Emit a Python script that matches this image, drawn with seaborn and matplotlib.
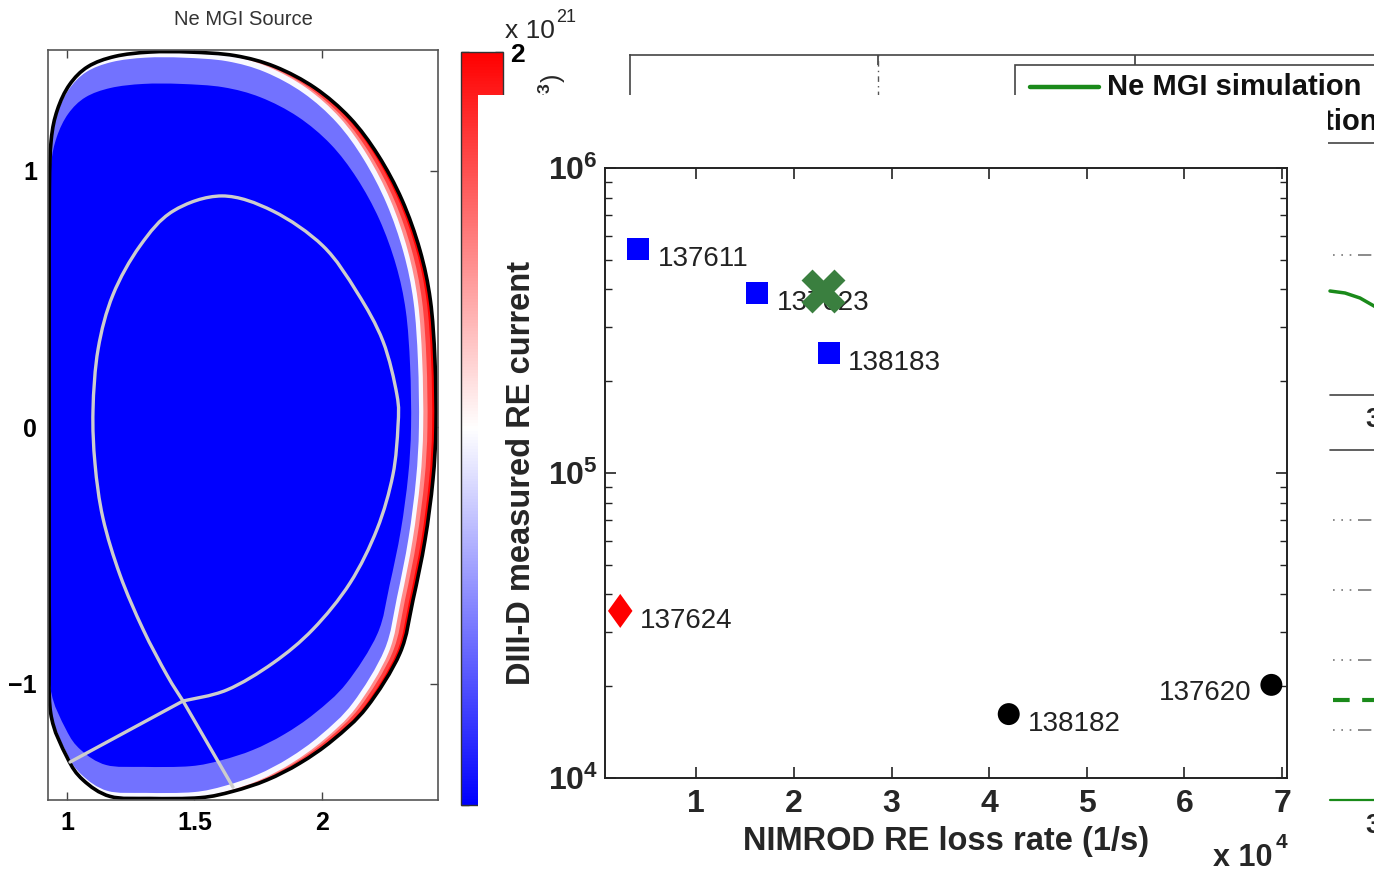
import numpy as np
import pandas as pd
import matplotlib
matplotlib.use("Agg")
import matplotlib.pyplot as plt
import seaborn as sns
from matplotlib.patches import Rectangle, PathPatch
from matplotlib.path import Path
from matplotlib.colors import Normalize
from matplotlib.cm import ScalarMappable
from matplotlib.ticker import FixedLocator, FixedFormatter, FuncFormatter, LogLocator, NullFormatter

# ---------------- scatter data (DIII-D vs NIMROD) ----------------
shots = ["137611", "137623", "138183", "137624", "138182", "137620"]
loss_rate = [4050, 16260, 23570, 2210, 42000, 68900]          # 1/s
re_current = [5.42e5, 3.89e5, 2.47e5, 3.53e4, 1.62e4, 2.02e4]  # A
shot_group = ["square", "square", "square", "diamond", "circle", "circle"]

sim_loss_rate = [22950]
sim_re_current = [3.95e5]

x_ticks = [1e4, 2e4, 3e4, 4e4, 5e4, 6e4, 7e4]
y_ticks = [1e4, 1e5, 1e6]
y_tick_labels = [r"$10^{4}$", r"$10^{5}$", r"$10^{6}$"]

# ---------------- poloidal cross-section (Ne MGI source) ----------------
wall_R = [2.447, 2.443, 2.425, 2.384, 2.314, 2.220, 2.110, 1.973, 1.816, 1.659,
          1.482, 1.325, 1.188, 1.082, 1.010, 0.962, 0.938, 0.931, 0.930, 0.930,
          0.930, 0.931, 0.936, 1.000, 1.063, 1.169, 1.325, 1.522, 1.651, 1.784,
          1.914, 2.043, 2.176, 2.306, 2.357, 2.404, 2.435]
wall_Z = [0.000, 0.261, 0.495, 0.690, 0.885, 1.060, 1.205, 1.322, 1.405, 1.448,
          1.462, 1.462, 1.445, 1.405, 1.335, 1.236, 1.119, 0.924, 0.495, 0.000,
          -0.519, -0.830, -1.115, -1.287, -1.376, -1.440, -1.448, -1.445, -1.420, -1.376,
          -1.310, -1.220, -1.092, -0.881, -0.674, -0.441, -0.207]

sep_R = [1.455, 1.392, 1.298, 1.208, 1.141, 1.110, 1.102, 1.122, 1.180, 1.286,
         1.416, 1.608, 1.808, 2.004, 2.137, 2.239, 2.294, 2.298, 2.278, 2.216,
         2.110, 1.965, 1.808, 1.627, 1.455]
sep_Z = [-1.068, -0.967, -0.788, -0.577, -0.355, -0.144, 0.066, 0.304, 0.515, 0.706,
         0.842, 0.901, 0.842, 0.706, 0.526, 0.335, 0.125, 0.004, -0.187, -0.398,
         -0.608, -0.788, -0.920, -1.025, -1.068]
leg1_R, leg1_Z = [1.455, 1.012], [-1.068, -1.306]
leg2_R, leg2_Z = [1.455, 1.651], [-1.068, -1.404]

# density bands: (R scale, Z scale, density value in 1e21 m^-3)
band_scale_R = [1.0, 0.99, 0.978, 0.967, 0.956, 0.9356]
band_scale_Z = [1.0, 1.0, 1.0, 1.0, 0.985, 0.915]
band_value = [2.0, 1.5, 0.9, -0.05, -1.1, -2.0]

cbar_ticks = [-2.0, -1.6, -1.2, -0.8, -0.4, 0.0, 0.4, 0.8, 1.2, 1.6, 2.0]

# background (partly hidden) panel elements, in pixel units
bg_grid_x = [878]
bg_top_ticks = [878, 1135]
bg_dotted_y = [255, 520, 590, 660, 730]
bg_solid_y = [395, 450]
bg_curve_x = [1330, 1345, 1360, 1374, 1390]
bg_curve_y = [291, 293, 298, 306, 316]

# ---------------- style ----------------
sns.set_theme(style="ticks")
plt.rcParams["font.family"] = ["Liberation Sans", "DejaVu Sans"]
plt.rcParams["mathtext.fontset"] = "custom"
plt.rcParams["mathtext.rm"] = "Liberation Sans:bold"
plt.rcParams["mathtext.bf"] = "Liberation Sans:bold"
plt.rcParams["mathtext.it"] = "Liberation Sans:bold:italic"

W, H = 1374, 871
fig = plt.figure(figsize=(W / 100, H / 100), dpi=100)
fig.patch.set_facecolor("white")


def rect(x0, y0, x1, y1):
    return [x0 / W, 1 - y1 / H, (x1 - x0) / W, (y1 - y0) / H]


def smooth_path(R, Z, closed):
    """Cubic Bezier path through the given outline vertices (drawn by matplotlib)."""
    P = np.column_stack([R, Z]).astype(float)
    n = len(P)
    verts = [P[0]]
    codes = [Path.MOVETO]
    nseg = n if closed else n - 1
    for i in range(nseg):
        p1 = P[i % n]
        p2 = P[(i + 1) % n]
        if closed:
            p0 = P[(i - 1) % n]
            p3 = P[(i + 2) % n]
        else:
            p0 = P[i - 1] if i > 0 else P[0]
            p3 = P[i + 2] if i + 2 < n else P[n - 1]
        verts += [p1 + (p2 - p0) / 6.0, p2 - (p3 - p1) / 6.0, p2]
        codes += [Path.CURVE4] * 3
    if closed:
        verts.append(P[0])
        codes.append(Path.CLOSEPOLY)
    return Path(np.array(verts), codes)


cmap = plt.get_cmap("bwr")
norm = Normalize(-2, 2)

# ================= left panel =================
axL = fig.add_axes(rect(48, 50, 438, 800))
wR = np.array(wall_R)
wZ = np.array(wall_Z)
for fr, fz, v in zip(band_scale_R, band_scale_Z, band_value):
    axL.add_patch(PathPatch(smooth_path(0.93 + fr * (wR - 0.93), fz * wZ, True),
                            facecolor=cmap(norm(v)), edgecolor="none", lw=0))
axL.add_patch(PathPatch(smooth_path(wR, wZ, True), facecolor="none",
                        edgecolor="black", lw=2.6))
sep_color = "#cdcdcd"
axL.add_patch(PathPatch(smooth_path(sep_R, sep_Z, False), facecolor="none",
                        edgecolor=sep_color, lw=2.4))
sns.lineplot(x=leg1_R, y=leg1_Z, sort=False, estimator=None, color=sep_color,
             lw=2.4, ax=axL)
sns.lineplot(x=leg2_R, y=leg2_Z, sort=False, estimator=None, color=sep_color,
             lw=2.4, ax=axL)
axL.set_xlim(0.9255, 2.455)
axL.set_ylim(-1.454, 1.470)
axL.set_xticks([1, 1.5, 2])
axL.set_xticklabels(["1", "1.5", "2"])
axL.set_yticks([-1, 0, 1])
axL.set_yticklabels(["\u22121", "0", "1"])
axL.tick_params(direction="in", top=True, right=True, length=6, width=1,
                colors="#444444", labelcolor="black", labelsize=18, pad=8)
for t in axL.get_xticklabels() + axL.get_yticklabels():
    t.set_fontweight("bold")
for s in axL.spines.values():
    s.set_color("#555555")
    s.set_linewidth(1.2)
axL.set_xlabel("")
axL.set_ylabel("")
axL.set_title("Ne MGI Source", fontsize=14.5, color="#333333", pad=18)

# colorbar
cax = fig.add_axes(rect(461, 52, 503, 805))
cb = fig.colorbar(ScalarMappable(norm=norm, cmap=cmap), cax=cax, ticks=cbar_ticks)
cb.outline.set_edgecolor("#333333")
cb.outline.set_linewidth(1.0)
cax.set_yticklabels([""] * 10 + ["2"])
cax.tick_params(direction="in", left=True, right=True, length=6, width=1,
                labelsize=19, pad=5, colors="#333333", labelcolor="black")
for t in cax.get_yticklabels():
    t.set_fontweight("bold")
fig.text(505 / W, 1 - 31 / H, "x 10", fontsize=19, ha="left", va="center")
fig.text(556 / W, 1 - 17 / H, "21", fontsize=13, ha="left", va="center")
fig.text(552 / W, 1 - 74 / H, "(m$^{-3}$)", fontsize=18,
         rotation=90, ha="center", va="top", zorder=0.5)

# ================= background panel (mostly hidden) =================
axB = fig.add_axes([630 / W, -0.1, 1.0, 1 - 55 / H + 0.1])
axB.set_facecolor("none")
axB.set_xlim(630, 630 + W)
axB.set_ylim(871 + 0.1 * H, 55)
for side in ["right", "bottom"]:
    axB.spines[side].set_visible(False)
for side in ["left", "top"]:
    axB.spines[side].set_color("#444444")
    axB.spines[side].set_linewidth(1.2)
axB.set_xticks(bg_top_ticks)
axB.set_yticks([])
axB.tick_params(axis="x", top=True, bottom=False, direction="in", length=7,
                labeltop=False, labelbottom=False, color="#444444")
for gx in bg_grid_x:
    axB.plot([gx, gx], [55, 110], color="#555555", lw=1, ls=(0, (1, 3, 4, 3)))
axB.add_patch(Rectangle((1015, 65), 900, 78, facecolor="white",
                        edgecolor="#444444", lw=1.2))
axB.plot([1030, 1099], [87, 87], color="#1a8a1a", lw=3.2)
axB.text(1107, 87, "Ne MGI simulation", fontsize=21, fontweight="bold",
         ha="left", va="center", color="#111111")
axB.text(1378, 122, "Ar MGI simulation", fontsize=21, fontweight="bold",
         ha="right", va="center", color="#111111")
for yy in bg_solid_y:
    axB.plot([1330, 2004], [yy, yy], color="#444444", lw=1.2)
for yy in bg_dotted_y:
    axB.plot([1333, 2004], [yy, yy], color="#777777", lw=1.2,
             ls=(0, (1, 4, 1, 4, 1, 4, 8, 2)))
axB.plot(bg_curve_x, bg_curve_y, color="#1a8a1a", lw=2.5)
axB.plot([1333, 2004], [700, 700], color="#1a8a1a", lw=3, ls=(0, (4, 3)))
axB.plot([1330, 2004], [800, 800], color="#1a8a1a", lw=1.6)
fig.text(1365 / W, 1 - 420 / H, "3", fontsize=20, fontweight="bold",
         ha="left", va="center", zorder=0.5)
fig.text(1365 / W, 1 - 826 / H, "3", fontsize=20, fontweight="bold",
         ha="left", va="center", zorder=0.5)

# ================= white overlay of the inset =================
fig.add_artist(Rectangle((478 / W, 0), (1328 - 478) / W, 1 - 95 / H,
                         transform=fig.transFigure, facecolor="white",
                         edgecolor="none", zorder=1))

# ================= main scatter panel =================
ax = fig.add_axes(rect(605, 168, 1287, 778))
ax.set_zorder(2)
ax.set_facecolor("white")
df = pd.DataFrame({"loss": loss_rate, "current": re_current,
                   "shot": shots, "group": shot_group})
diamond = [(0, 1), (0.72, 0), (0, -1), (-0.72, 0), (0, 1)]
sns.scatterplot(data=df, x="loss", y="current", hue="group", style="group",
                size="group",
                palette={"square": "#0000ff", "diamond": "#ff0000", "circle": "#000000"},
                markers={"square": "s", "diamond": diamond, "circle": "o"},
                sizes={"square": 250, "diamond": 600, "circle": 250},
                linewidth=0, legend=False, ax=ax, zorder=3)
sns.scatterplot(x=sim_loss_rate, y=sim_re_current, marker="X", s=1000,
                color="#3a7f3f", linewidth=0, ax=ax, zorder=6)
for sx, sy, name in zip(loss_rate, re_current, shots):
    if name == "137620":
        ax.annotate(name, (sx, sy), xytext=(-14, -6), textcoords="offset points",
                    ha="right", va="center", fontsize=20, color="#222222", zorder=4)
    else:
        ax.annotate(name, (sx, sy), xytext=(14, -7), textcoords="offset points",
                    ha="left", va="center", fontsize=20, color="#222222", zorder=4)

ax.set_yscale("log")
ax.set_xlim(650, 70500)
ax.set_ylim(1e4, 1e6)
ax.xaxis.set_major_locator(FixedLocator(x_ticks))
ax.xaxis.set_major_formatter(FuncFormatter(lambda v, p: f"{v / 1e4:g}"))
ax.yaxis.set_major_locator(FixedLocator(y_ticks))
ax.yaxis.set_major_formatter(FixedFormatter(y_tick_labels))
ax.yaxis.set_minor_locator(LogLocator(base=10, subs=np.arange(2, 10)))
ax.yaxis.set_minor_formatter(NullFormatter())
ax.tick_params(which="major", direction="in", top=True, right=True, length=8,
               width=1.2, labelsize=23, pad=8, color="#222222")
ax.tick_params(which="minor", direction="in", left=True, right=True, length=5,
               width=1.0, color="#222222")
ax.tick_params(axis="y", which="major", pad=5)
for t in ax.get_xticklabels() + ax.get_yticklabels():
    t.set_fontweight("bold")
for s in ax.spines.values():
    s.set_color("#222222")
    s.set_linewidth(1.4)
ax.set_xlabel("NIMROD RE loss rate (1/s)", fontsize=23.5, fontweight="bold",
              labelpad=5)
ax.set_ylabel("DIII-D measured RE current", fontsize=23.5, fontweight="bold",
              labelpad=8)
fig.text(1213 / W, 1 - 858 / H, "x 10", fontsize=22, fontweight="bold",
         ha="left", va="center", zorder=3)
fig.text(1276 / W, 1 - 842 / H, "4", fontsize=15, fontweight="bold",
         ha="left", va="center", zorder=3)

fig.savefig("out.png", dpi=100, facecolor="white")
